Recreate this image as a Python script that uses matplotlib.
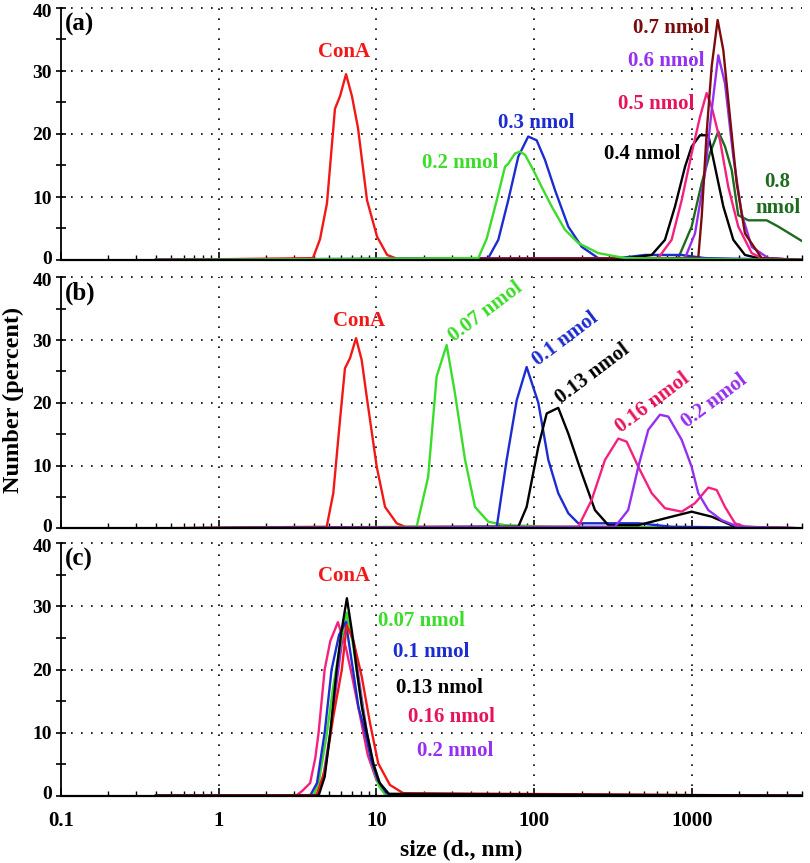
import matplotlib
matplotlib.use("Agg")
import matplotlib.pyplot as plt
from matplotlib.ticker import LogLocator, FixedLocator, NullFormatter
from matplotlib.transforms import ScaledTranslation

plt.rcParams['font.family'] = ['Liberation Serif', 'DejaVu Serif']
plt.rcParams['font.weight'] = 'bold'

# ---------------- data (size in nm, number %) ----------------
# panel (a)
conA_a_size = [0.4, 3.96, 4.39, 4.86, 5.46, 5.88, 6.42, 7.0, 7.64, 8.72, 10.1, 11.7, 13.5, 5000]
conA_a_val = [0, 0.3, 3.3, 9, 24, 26, 29.5, 26, 21, 9.5, 3.7, 0.8, 0.2, 0]
n02_a_size = [0.4, 44.3, 50.1, 58.0, 65.4, 68.6, 75.6, 81.4, 87.6, 98.8, 111.7, 129.3, 157, 190.6, 255, 377, 5000]
n02_a_val = [0, 0.3, 3.4, 9.5, 14.8, 15.3, 16.9, 17.2, 16.7, 14.3, 11.6, 8.5, 4.8, 2.7, 1.1, 0.3, 0]
n03_a_size = [0.4, 51.2, 59.3, 68.6, 79.4, 91.8, 103.8, 117.2, 135.7, 164.8, 200.4, 255, 320, 505, 863, 1213, 5000]
n03_a_val = [0, 0.3, 3.2, 9.5, 16.4, 19.6, 19.0, 15.9, 11.1, 5.3, 2.1, 0.3, 0.2, 0.8, 0.8, 0.3, 0]
n04_a_size = [0.4, 395, 557, 676, 783, 906, 998, 1127, 1273, 1403, 1585, 1834, 2175, 2642, 5000]
n04_a_val = [0, 0.3, 0.8, 3.2, 8.5, 14.8, 18.0, 19.8, 19.8, 14.8, 8.5, 3.2, 0.8, 0.3, 0]
n05_a_size = [0.4, 613, 745, 863, 998, 1127, 1242, 1337, 1510, 1704, 1972, 2398, 2773, 5000]
n05_a_val = [0, 0.3, 3.2, 9.5, 16.9, 22.7, 26.5, 24.3, 19.0, 11.6, 5.3, 1.1, 0.3, 0]
n06_a_size = [0.4, 906, 1048, 1213, 1337, 1473, 1625, 1834, 2070, 2398, 3055, 5000]
n06_a_val = [0, 0.3, 4.2, 13.8, 23.8, 32.5, 28.0, 16.4, 7.4, 2.1, 0.3, 0]
n07_a_size = [0.4, 1099, 1156, 1242, 1337, 1459, 1585, 1746, 1927, 2175, 2773, 5000]
n07_a_val = [0, 0.3, 6.9, 20.1, 30.7, 38.1, 33.3, 22.7, 12.2, 4.2, 0.3, 0]
n08_a_size = [0.4, 821, 998, 1156, 1306, 1473, 1625, 1791, 1972, 2282, 2985, 3539, 5000]
n08_a_val = [0, 0.3, 5.3, 12.2, 17.0, 20.4, 18.0, 14.3, 7.1, 6.3, 6.3, 5.3, 3.0]

# panel (b)
conA_b_size = [0.4, 4.84, 5.33, 5.88, 6.32, 6.80, 7.43, 8.07, 8.68, 10.05, 11.35, 13.45, 15.2, 5000]
conA_b_val = [0, 0.25, 5.6, 17.3, 25.5, 27.1, 30.3, 26.8, 21.0, 9.8, 3.4, 0.8, 0.25, 0]
n007_b_size = [0.4, 18.0, 21.3, 24.1, 27.9, 31.5, 36.5, 42.2, 51.2, 65.4, 135.7, 5000]
n007_b_val = [0, 0.25, 8.2, 24.2, 29.2, 21.5, 10.9, 3.4, 1.05, 0.5, 0.25, 0]
n01_b_size = [0.4, 58.0, 67.0, 77.6, 89.7, 106.4, 123.1, 142.3, 164.8, 190.6, 281.6, 458, 745, 5000]
n01_b_val = [0, 0.25, 10.9, 20.4, 25.7, 20.0, 10.9, 5.6, 2.4, 0.8, 0.8, 0.8, 0.25, 0]
n013_b_size = [0.4, 79.4, 89.7, 106.4, 120.2, 142.3, 164.8, 200.4, 243.2, 295.6, 458, 745, 998, 1337, 1880, 5000]
n013_b_val = [0, 0.25, 3.4, 13.0, 18.3, 19.2, 15.1, 8.8, 2.9, 0.5, 0.5, 1.85, 2.65, 1.85, 0.25, 0]
n016_b_size = [0.4, 190.6, 231.6, 281.6, 342, 386.5, 458, 557, 676, 863, 1048, 1273, 1439, 1625, 1880, 2175, 5000]
n016_b_val = [0, 0.25, 4.5, 10.9, 14.3, 13.8, 9.8, 5.6, 3.2, 2.65, 4.0, 6.5, 6.1, 3.4, 0.8, 0.25, 0]
n02_b_size = [0.4, 326, 395, 458, 530, 628, 710, 863, 998, 1099, 1273, 1548, 1972, 5000]
n02_b_val = [0, 0.25, 2.9, 9.8, 15.7, 18.1, 17.8, 14.1, 9.8, 5.6, 2.9, 1.3, 0.25, 0]

# panel (c)
conA_c_size = [0.4, 4.18, 4.72, 5.33, 6.03, 6.48, 7.13, 8.07, 9.11, 10.28, 12.19, 14.8, 5000]
conA_c_val = [0, 0.1, 4.1, 12.5, 19.9, 27.0, 24.7, 18.9, 11.5, 5.1, 1.7, 0.4, 0]
n007_c_size = [0.4, 4.0, 4.3, 4.8, 5.3, 5.9, 6.5, 7.1, 7.7, 8.5, 9.4, 10.4, 11.5, 5000]
n007_c_val = [0, 0, 2, 9, 17, 24, 29, 24, 18, 11, 5, 1.5, 0, 0]
n01_c_size = [0.4, 3.8, 4.2, 4.7, 5.2, 5.8, 6.4, 7.1, 7.7, 8.5, 9.3, 10.2, 11.5, 12.5, 5000]
n01_c_val = [0, 0, 2, 10, 20, 25.5, 27.5, 20, 14, 10, 5.5, 2.5, 0.5, 0, 0]
n013_c_size = [0.4, 4.3, 4.7, 5.1, 5.6, 6.0, 6.5, 7.0, 7.5, 8.1, 8.7, 9.6, 10.5, 12.0, 5000]
n013_c_val = [0, 0, 3, 10, 20, 26, 31.3, 26, 20, 14, 10, 5, 2, 0.3, 0]
n016_c_size = [0.4, 3.1, 3.4, 3.8, 4.1, 4.3, 4.7, 5.1, 5.7, 6.4, 7.0, 7.9, 8.8, 10.0, 11.3, 12.3, 5000]
n016_c_val = [0, 0, 0.8, 2, 6, 10, 20, 24.5, 27.5, 23.5, 19, 12.5, 6.5, 2.5, 0.5, 0, 0]
n02_c_size = [0.4, 4.2, 4.6, 5.1, 5.6, 6.1, 6.6, 7.2, 7.9, 8.7, 9.6, 10.6, 12.0, 5000]
n02_c_val = [0, 0, 3, 10, 18, 25, 28, 24, 17, 10, 4.5, 1.5, 0, 0]

panel_tags = ['(a)', '(b)', '(c)']
x_ticks = [0.1, 1, 10, 100, 1000]
x_tick_labels = ['0.1', '1', '10', '100', '1000']
y_ticks = [0, 10, 20, 30, 40]

RED = '#F21818'
GREEN = '#3CDC2A'
BLUE = '#1C2CD0'
BLACK = '#000000'
PINK = '#F5217E'
CRIMSON = '#E8125C'
PURPLE = '#9530F0'
DRED = '#7A0C0C'
DGREEN = '#1E6A1E'

# curves in drawing order: (sizes, values, color)
panel_curves = [
    [(conA_a_size, conA_a_val, RED), (n08_a_size, n08_a_val, DGREEN),
     (n03_a_size, n03_a_val, BLUE), (n04_a_size, n04_a_val, BLACK),
     (n05_a_size, n05_a_val, PINK), (n06_a_size, n06_a_val, PURPLE),
     (n07_a_size, n07_a_val, DRED), (n02_a_size, n02_a_val, GREEN)],
    [(conA_b_size, conA_b_val, RED), (n007_b_size, n007_b_val, GREEN),
     (n01_b_size, n01_b_val, BLUE), (n013_b_size, n013_b_val, BLACK),
     (n016_b_size, n016_b_val, PINK), (n02_b_size, n02_b_val, PURPLE)],
    [(n02_c_size, n02_c_val, PURPLE), (n016_c_size, n016_c_val, PINK),
     (n007_c_size, n007_c_val, GREEN), (n01_c_size, n01_c_val, BLUE),
     (conA_c_size, conA_c_val, RED), (n013_c_size, n013_c_val, BLACK)],
]

# annotations: (text, x, y, color, rotation, ha)
panel_texts = [
    [('ConA', 6.24, 33.0, RED, 0, 'center'),
     ('0.2 nmol', 33.9, 15.4, GREEN, 0, 'center'),
     ('0.3 nmol', 103.5, 21.8, BLUE, 0, 'center'),
     ('0.4 nmol', 483, 16.8, BLACK, 0, 'center'),
     ('0.5 nmol', 597, 24.8, CRIMSON, 0, 'center'),
     ('0.6 nmol', 692, 31.6, PURPLE, 0, 'center'),
     ('0.7 nmol', 743, 36.9, DRED, 0, 'center'),
     ('0.8\nnmol', 3500, 10.3, DGREEN, 0, 'center')],
    [('ConA', 7.76, 33.1, RED, 0, 'center'),
     ('0.07 nmol', 49.3, 34.5, GREEN, 37, 'center'),
     ('0.1 nmol', 158.6, 30.2, BLUE, 37, 'center'),
     ('0.13 nmol', 234, 24.6, BLACK, 37, 'center'),
     ('0.16 nmol', 562, 20.0, CRIMSON, 37, 'center'),
     ('0.2 nmol', 1384, 20.3, PURPLE, 37, 'center')],
    [('ConA', 6.24, 34.8, RED, 0, 'center'),
     ('0.07 nmol', 10.2, 27.7, GREEN, 0, 'left'),
     ('0.1 nmol', 12.7, 22.7, BLUE, 0, 'left'),
     ('0.13 nmol', 13.4, 17.1, BLACK, 0, 'left'),
     ('0.16 nmol', 15.8, 12.4, CRIMSON, 0, 'left'),
     ('0.2 nmol', 18.0, 7.1, PURPLE, 0, 'left')],
]

# ---------------- figure ----------------
W, H = 810, 863
fig = plt.figure(figsize=(W / 100, H / 100), dpi=100)
left = 61 / W
width = (802 - 61) / W
panel_px = [(8, 260), (277.3, 528.3), (543.3, 795.7)]

for i, (top_px, bot_px) in enumerate(panel_px):
    ax = fig.add_axes([left, 1 - bot_px / H, width, (bot_px - top_px) / H])
    ax.set_xscale('log')
    ax.set_xlim(0.1, 5000)
    ax.set_ylim(0, 40)
    for s in ('top', 'right'):
        ax.spines[s].set_visible(False)
    ax.spines['left'].set_linewidth(1.3)
    ax.spines['bottom'].set_linewidth(1.6)
    ax.set_axisbelow(True)

    # grid
    for gx in x_ticks[1:]:
        ax.axvline(gx, color='black', lw=1.2, ls=(0, (1, 5)), zorder=0.5)
    for gy in y_ticks[1:]:
        ax.axhline(gy, color='black', lw=1.2, ls=(0, (1, 5)), zorder=0.5, clip_on=False)

    for sz, vals, col in panel_curves[i]:
        ax.plot(sz, vals, color=col, lw=1.7, zorder=2)

    ax.yaxis.set_major_locator(FixedLocator(y_ticks))
    ax.yaxis.set_minor_locator(FixedLocator([5, 15, 25, 35]))
    ax.tick_params(axis='y', which='both', direction='inout', length=7, width=1.2,
                   labelsize=14, pad=3)
    ax.xaxis.set_major_locator(FixedLocator(x_ticks))
    ax.xaxis.set_minor_locator(LogLocator(base=10, subs=range(2, 10)))
    ax.xaxis.set_minor_formatter(NullFormatter())
    ax.tick_params(axis='x', which='major', direction='in', length=6, width=1.2,
                   labelsize=15, pad=11)
    ax.tick_params(axis='x', which='minor', direction='in', length=3.5, width=1.0)
    if i == 2:
        ax.set_xticklabels(x_tick_labels)
    else:
        ax.set_xticklabels([])
    for lab in ax.get_yticklabels() + ax.get_xticklabels():
        lab.set_fontweight('bold')
    # nudge the 0 and 40 labels apart slightly, as in the reference
    ylabs = ax.get_yticklabels()
    ylabs[0].set_transform(ylabs[0].get_transform() +
                           ScaledTranslation(0, 2 / 72, fig.dpi_scale_trans))
    ylabs[-1].set_transform(ylabs[-1].get_transform() +
                            ScaledTranslation(0, -1.5 / 72, fig.dpi_scale_trans))

    ax.text(0.106, 37.4, panel_tags[i], fontsize=18, fontweight='bold',
            ha='left', va='center')
    for txt, tx, ty, col, rot, ha in panel_texts[i]:
        ax.text(tx, ty, txt, color=col, fontsize=15, fontweight='bold',
                ha=ha, va='center', rotation=rot, multialignment='center',
                linespacing=1.4)

fig.text(461 / W, 1 - 850 / H, 'size (d., nm)', fontsize=17, fontweight='bold',
         ha='center', va='center')
fig.text(13 / W, 1 - 400 / H, 'Number (percent)', fontsize=17.5, fontweight='bold',
         ha='center', va='center', rotation=90)

fig.savefig('out.png', dpi=100)
